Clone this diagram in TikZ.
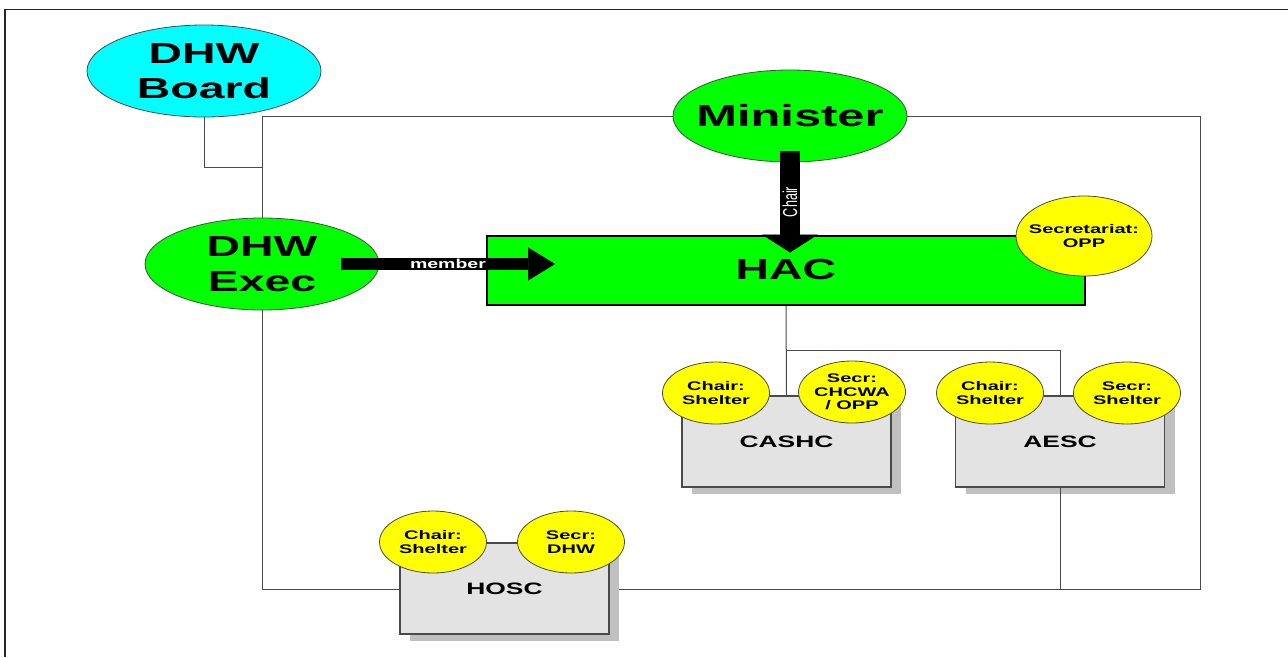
\documentclass[tikz,border=0pt]{standalone}
\usepackage{fontspec}
\setmainfont{Liberation Sans}
\usepackage{graphicx}
\usetikzlibrary{shapes.geometric,arrows.meta,shadows}
\definecolor{cyanfill}{HTML}{00FFFF}
\definecolor{greenfill}{HTML}{00FF00}
\definecolor{yellowfill}{HTML}{FFFF00}
\definecolor{boxfill}{HTML}{E3E3E3}
\definecolor{shadowgray}{HTML}{C0C0C0}
\definecolor{linegray}{HTML}{4A4A4A}
\newcommand\sx[1]{\scalebox{1.6}[1]{#1}}
\begin{document}
\begin{tikzpicture}[x=1pt,y=-1pt,
  bigell/.style={ellipse, draw=linegray, line width=0.8pt, minimum width=234pt, minimum height=92pt, inner xsep=-14pt, inner ysep=0pt, align=center, font=\fontsize{29}{35}\selectfont\bfseries},
  smallell/.style={ellipse, draw=linegray, line width=0.8pt, fill=yellowfill, minimum width=107pt, minimum height=62pt, inner xsep=-12pt, inner ysep=0pt, align=center, font=\fontsize{12.5}{13.5}\selectfont\bfseries},
  combox/.style={rectangle, draw=linegray, line width=1.3pt, fill=boxfill, minimum width=209pt, minimum height=91pt, inner sep=0pt, font=\fontsize{16.5}{18}\selectfont\bfseries, drop shadow={shadow xshift=10pt, shadow yshift=-7pt, fill=shadowgray, opacity=1}},
  conn/.style={draw=linegray, line width=1pt},
  chairarrow/.style={draw=black, line width=20pt, -{Triangle[length=18pt,width=56pt,line width=0.5pt]}},
  memberarrow/.style={draw=black, line width=12pt, -{Triangle[length=27pt,width=33pt,line width=0.5pt]}}
]
\useasboundingbox (0,0) rectangle (1288,657);
% outer page frame
\draw[draw=black!85, line width=1.2pt] (5,657) -- (5,9.5) -- (1288,9.5);

% organisational frame
\coordinate (ftl) at (262,116);
\coordinate (fbr) at (1200,589);
\draw[conn] (ftl) rectangle (fbr);

% nodes
\node[bigell, fill=cyanfill] (board) at (204,71) {\sx{DHW}\\\sx{Board}};
\coordinate (bj) at (262,167);
\draw[conn] (board.south) |- (bj);

\node[combox] (cashc) at (786.5,441.5) {\sx{CASHC}};
\node[combox] (aesc) at (1060,441.5) {\sx{AESC}};
\node[combox] (hosc) at (504.5,588.5) {\sx{HOSC}};

\node[rectangle, draw=black, line width=2pt, fill=greenfill, minimum width=598pt, minimum height=69pt, inner sep=0pt, font=\fontsize{29}{35}\selectfont\bfseries] (hac) at (786,270) {\sx{HAC}};

\coordinate (br) at (786,350);
\draw[conn] (hac.south) -- (cashc.north);
\draw[conn] (br) -| (aesc.north);
\draw[conn] (aesc.south) -- (aesc.south |- fbr);

\node[bigell, fill=greenfill, font=\fontsize{30.5}{35}\selectfont\bfseries] (minister) at (790,116) {\sx{Minister}};
\node[bigell, fill=greenfill] (exec) at (262,264) {\sx{DHW}\\\sx{Exec}};

\node[smallell, minimum width=136pt, minimum height=80pt] (secr) at (1084,236) {\sx{Secretariat:}\\\sx{OPP}};

\node[smallell] (cashcchair) at (716,393) {\sx{Chair:}\\\sx{Shelter}};
\node[smallell] (cashcsecr) at (852,392) {\sx{Secr:}\\\sx{CHCWA}\\\sx{/ OPP}};
\node[smallell] (aescchair) at (990,393) {\sx{Chair:}\\\sx{Shelter}};
\node[smallell] (aescsecr) at (1127,393) {\sx{Secr:}\\\sx{Shelter}};
\node[smallell] (hoscchair) at (433,542) {\sx{Chair:}\\\sx{Shelter}};
\node[smallell] (hoscsecr) at (571,542) {\sx{Secr:}\\\sx{DHW}};

% arrows
\draw[chairarrow] ([yshift=11pt]minister.south) -- ([yshift=-18pt]minister.south |- hac.north)
  node[midway, rotate=90, text=white, font=\fontsize{12.6}{14}\selectfont, inner sep=0pt] {\scalebox{1}[1.6]{Chair}};
\draw[memberarrow] ([xshift=79pt]exec.center) -- ([xshift=69pt]exec.center -| hac.west)
  node[midway, text=white, font=\fontsize{13}{15}\selectfont\bfseries, inner sep=0pt] {\scalebox{1.5}[1]{member}};
\end{tikzpicture}
\end{document}
